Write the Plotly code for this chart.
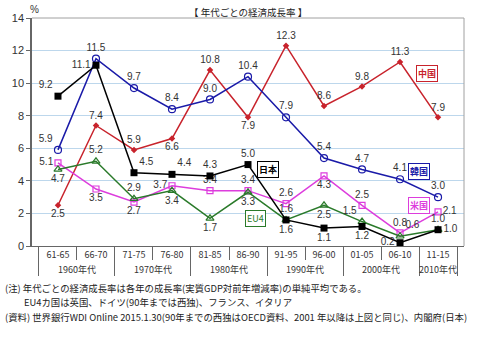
import plotly.graph_objects as go

# 年代区分（外側：年代、内側：5年期間）
decades = ["1960年代", "1960年代", "1970年代", "1970年代", "1980年代", "1980年代",
           "1990年代", "1990年代", "2000年代", "2000年代", "2010年代"]
periods = ["61-65", "66-70", "71-75", "76-80", "81-85", "86-90",
           "91-95", "96-00", "01-05", "06-10", "11-15"]

# 各期間の平均実質GDP成長率（%）
japan = [9.2, 11.1, 4.5, 4.4, 4.3, 5.0, 1.6, 1.1, 1.2, 0.2, 1.0]
korea = [5.9, 11.5, 9.7, 8.4, 9.0, 10.4, 7.9, 5.4, 4.7, 4.1, 3.0]
china = [2.5, 7.4, 5.9, 6.6, 10.8, 7.9, 12.3, 8.6, 9.8, 11.3, 7.9]
usa = [5.1, 3.5, 2.7, 3.7, 3.4, 3.4, 2.6, 4.3, 2.5, 0.8, 2.1]
eu4 = [4.7, 5.2, 2.9, 3.4, 1.7, 3.3, 1.6, 2.5, 1.5, 0.6, 1.0]

yticks = [0, 2, 4, 6, 8, 10, 12, 14]

x = [decades, periods]
label_font = dict(family="Liberation Sans, Arial, sans-serif", size=10, color="#333333")

series = [
    dict(name="中国", y=china, color="#c8232c",
         marker=dict(symbol="diamond", size=5, color="#c8232c"),
         pos=["bottom center", "top center", "top center", "bottom center", "top center",
              "bottom center", "top center", "top center", "top center", "top center", "top center"]),
    dict(name="韓国", y=korea, color="#1a1aa8",
         marker=dict(symbol="circle-open", size=7, color="#1a1aa8", line=dict(width=1.2)),
         pos=["top left", "top center", "top center", "top center", "top center", "top center",
              "top center", "top center", "top center", "top center", "top center"]),
    dict(name="米国", y=usa, color="#dd3ddd",
         marker=dict(symbol="square-open", size=6, color="#dd3ddd", line=dict(width=1.2)),
         pos=["middle left", "bottom center", "bottom center", "middle left", "top center", "top center",
              "top center", "bottom center", "top center", "top center", "middle right"]),
    dict(name="EU4", y=eu4, color="#2a7a2a",
         marker=dict(symbol="triangle-up-open", size=7, color="#2a7a2a", line=dict(width=1.2)),
         pos=["bottom center", "top center", "top center", "bottom center", "bottom center", "bottom center",
              "top center", "bottom center", "top left", "top right", "top center"]),
    dict(name="日本", y=japan, color="#000000",
         marker=dict(symbol="square", size=7, color="#000000"),
         pos=["top left", "middle left", "top right", "top right", "top center", "top center",
              "bottom center", "bottom center", "bottom center", "middle left", "middle right"]),
]

fig = go.Figure()
for s in series:
    fig.add_trace(go.Scatter(
        x=x, y=s["y"], name=s["name"], mode="lines+markers+text",
        line=dict(color=s["color"], width=1.5),
        marker=s["marker"],
        text=[f"{v:.1f}" for v in s["y"]],
        textposition=s["pos"],
        textfont=label_font,
        cliponaxis=False,
        showlegend=False,
    ))

# 系列名のボックスラベル
boxes = [
    ("中国", 9.7, 10.6, "#c8232c"),
    ("韓国", 9.5, 4.6, "#1a1aa8"),
    ("米国", 9.5, 2.5, "#dd3ddd"),
    ("日本", 5.53, 4.7, "#000000"),
    ("EU4", 5.2, 1.7, "#2a7a2a"),
]
for txt, bx, by, col in boxes:
    fig.add_annotation(
        x=bx, y=by, xref="x", yref="y", text=f"<b>{txt}</b>" if txt != "EU4" else txt,
        showarrow=False, font=dict(family="Noto Sans CJK JP, sans-serif", size=9, color=col),
        bgcolor="white", bordercolor=col, borderwidth=1, borderpad=1,
    )

PLOT_W, PLOT_H = 438, 231

def px_x(p):
    return (p - 26) / PLOT_W

def px_y(p):
    return 1 - (p - 15) / PLOT_H

fig.add_annotation(x=px_x(22), y=px_y(6), xref="paper", yref="paper", text="%",
                   showarrow=False, xanchor="left", yanchor="middle",
                   font=dict(family="Liberation Sans, Arial, sans-serif", size=10, color="#333"))
fig.add_annotation(x=0.5, y=px_y(9), xref="paper", yref="paper",
                   text="【 年代ごとの経済成長率 】", showarrow=False,
                   xanchor="center", yanchor="middle",
                   font=dict(family="Noto Sans CJK JP, sans-serif", size=9.5, color="#222"))

notes = [
    (-3, 289, "(注) 年代ごとの経済成長率は各年の成長率(実質GDP対前年増減率)の単純平均である。"),
    (16, 303, "EU4カ国は英国、ドイツ(90年までは西独)、フランス、イタリア"),
    (-3, 318, "(資料) 世界銀行WDI Online 2015.1.30(90年までの西独はOECD資料、2001 年以降は上図と同じ)、内閣府(日本)"),
]
for nx, ny, nt in notes:
    fig.add_annotation(x=px_x(nx), y=px_y(ny), xref="paper", yref="paper", text=nt,
                       showarrow=False, xanchor="left", yanchor="middle",
                       font=dict(family="Noto Sans CJK JP, sans-serif", size=9.4, color="#222"))

# プロット領域の上辺・右辺の枠線
fig.add_shape(type="line", xref="paper", yref="paper", x0=0, x1=1, y0=1, y1=1,
              line=dict(color="#a0a0a0", width=1))
fig.add_shape(type="line", xref="paper", yref="paper", x0=1, x1=1, y0=0, y1=1,
              line=dict(color="#a0a0a0", width=1))

fig.update_xaxes(
    type="multicategory", showline=True, linecolor="#666666", linewidth=1,
    ticks="outside", tickson="boundaries", ticklen=13, tickcolor="#666666",
    showdividers=True, dividercolor="#666666", dividerwidth=1,
    showgrid=False, tickfont=dict(family="Noto Sans CJK JP, Liberation Sans, sans-serif", size=9, color="#333"),
)
fig.update_yaxes(
    range=[0, 14], tickvals=yticks, showgrid=True, gridcolor="#bdd7ec", gridwidth=1,
    showline=True, linecolor="#666666", linewidth=1.5, ticks="outside", ticklen=4,
    tickcolor="#666666", zeroline=False,
    tickfont=dict(family="Liberation Sans, Arial, sans-serif", size=11, color="#333"),
)
fig.update_layout(
    width=480, height=338, margin=dict(l=26, r=16, t=15, b=92),
    paper_bgcolor="white", plot_bgcolor="white",
)
fig.write_html("out.html")
